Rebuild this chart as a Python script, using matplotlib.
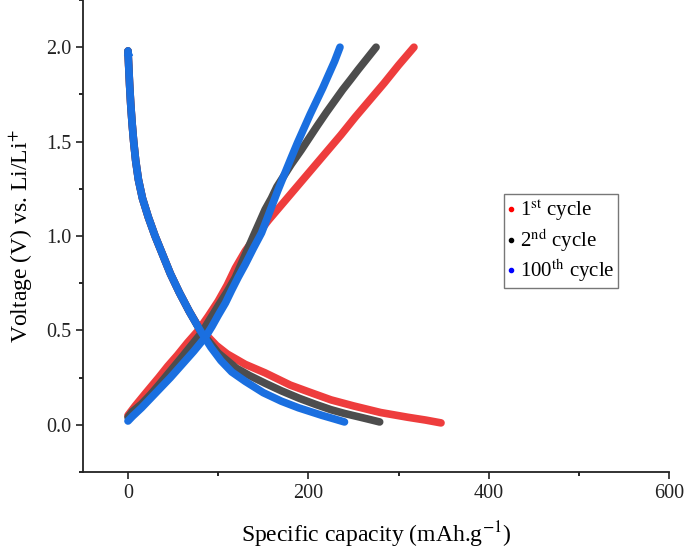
import numpy as np
import matplotlib
matplotlib.use('Agg')
import matplotlib.pyplot as plt
from matplotlib.lines import Line2D
from matplotlib.ticker import MultipleLocator

plt.rcParams['font.family'] = 'Liberation Serif'
plt.rcParams['mathtext.fontset'] = 'stix'

# discharge curves (capacity mAh/g, voltage V)
dis1_x = [0, 0.8, 1.8, 3, 4.5, 6.3, 8.5, 11.5, 16, 22.5, 30, 38.5, 47, 57, 68, 78, 88, 98, 110, 130, 152, 180, 200, 225, 250, 280, 310, 330, 347]
dis1_y = [1.98, 1.9, 1.8, 1.7, 1.6, 1.5, 1.4, 1.3, 1.2, 1.1, 1.0, 0.9, 0.8, 0.7, 0.6, 0.52, 0.47, 0.42, 0.375, 0.32, 0.275, 0.21, 0.175, 0.132, 0.1, 0.065, 0.04, 0.025, 0.01]
dis2_x = [0, 0.8, 1.8, 3, 4.5, 6.3, 8.5, 11.5, 16, 22.5, 30, 38.5, 47, 57, 68, 80, 90, 100, 120, 135, 152, 170, 190, 208, 225, 240, 255, 268, 279]
dis2_y = [1.98, 1.9, 1.8, 1.7, 1.6, 1.5, 1.4, 1.3, 1.2, 1.1, 1.0, 0.9, 0.8, 0.7, 0.6, 0.5, 0.44, 0.38, 0.3, 0.26, 0.22, 0.18, 0.14, 0.108, 0.08, 0.06, 0.043, 0.028, 0.015]
dis100_x = [0, 0.8, 1.8, 3, 4.5, 6.3, 8.5, 11.5, 16, 22.5, 30, 38.5, 47, 57, 68, 80, 92, 103, 115, 130, 150, 170, 189, 202, 215, 228, 240]
dis100_y = [1.98, 1.9, 1.8, 1.7, 1.6, 1.5, 1.4, 1.3, 1.2, 1.1, 1.0, 0.9, 0.8, 0.7, 0.6, 0.5, 0.41, 0.34, 0.28, 0.23, 0.17, 0.125, 0.09, 0.07, 0.05, 0.032, 0.015]

# charge curves
chg1_x = [0, 4, 8, 14, 20, 27, 34, 44, 55, 66, 78, 89, 100, 110, 119, 130, 142, 156, 172, 188, 204, 220, 236, 252, 268, 284, 300, 317]
chg1_y = [0.05, 0.075, 0.1, 0.135, 0.17, 0.21, 0.25, 0.31, 0.37, 0.435, 0.5, 0.575, 0.655, 0.74, 0.83, 0.92, 1.0, 1.085, 1.175, 1.265, 1.355, 1.445, 1.535, 1.63, 1.72, 1.81, 1.905, 2.0]
chg2_x = [0, 5, 15, 25, 34, 47, 60, 71, 82, 91, 100, 110, 119, 129, 139, 146, 152, 159, 165, 173, 181, 192, 201, 210, 220, 229, 238, 247, 255, 265, 275]
chg2_y = [0.04, 0.07, 0.11, 0.16, 0.21, 0.285, 0.36, 0.425, 0.49, 0.56, 0.63, 0.705, 0.78, 0.89, 1.0, 1.075, 1.14, 1.2, 1.26, 1.32, 1.38, 1.455, 1.52, 1.585, 1.655, 1.715, 1.775, 1.83, 1.88, 1.94, 2.0]
chg100_x = [0, 5, 15, 25, 34, 47, 60, 73, 86, 93, 100, 108, 115, 122, 130, 139, 148, 154, 160, 166, 172, 181, 188, 195, 202, 209, 216, 222, 229, 235]
chg100_y = [0.02, 0.045, 0.09, 0.14, 0.185, 0.25, 0.32, 0.39, 0.466, 0.52, 0.58, 0.645, 0.714, 0.78, 0.85, 0.935, 1.016, 1.09, 1.165, 1.24, 1.31, 1.415, 1.495, 1.57, 1.645, 1.715, 1.785, 1.85, 1.925, 2.0]

labels = ['1$^{\\mathrm{st}}$ cycle', '2$^{\\mathrm{nd}}$ cycle', '100$^{\\mathrm{th}}$ cycle']
colors = ['#ee3d3d', '#4d4d4d', '#1a6fe0']
legend_colors = ['red', 'black', 'blue']

fig = plt.figure(figsize=(6.85, 5.51), dpi=100)
ax = fig.add_axes([0.121, 0.1434, 0.856, 0.8566])

curves = [(dis1_x, dis1_y, chg1_x, chg1_y),
          (dis2_x, dis2_y, chg2_x, chg2_y),
          (dis100_x, dis100_y, chg100_x, chg100_y)]
for (dx, dy, cx, cy), c in zip(curves, colors):
    ax.plot(dx, dy, color=c, lw=5.5, solid_capstyle='round', solid_joinstyle='round')
    ax.plot(cx, cy, color=c, lw=5.5, solid_capstyle='round', solid_joinstyle='round')
ax.plot([0], [1.98], marker='^', color=colors[2], ms=6)
ax.plot([0], [1.92], marker='^', color=colors[2], ms=5)

ax.set_xlim(-50, 600)
ax.set_ylim(-0.25, 2.25)
ax.xaxis.set_major_locator(MultipleLocator(200))
ax.xaxis.set_minor_locator(MultipleLocator(100))
ax.yaxis.set_minor_locator(MultipleLocator(0.25))
ax.set_yticks([0, 0.5, 1.0, 1.5, 2.0])
ax.set_yticklabels(['0.0', '0.5', '1.0', '1.5', '2.0'])
ax.tick_params(which='major', direction='out', length=5, width=1.2, labelsize=14.5, colors='#222222')
ax.tick_params(which='minor', direction='out', length=3, width=1.2)
ax.spines['top'].set_visible(False)
ax.spines['right'].set_visible(False)
for s in ['left', 'bottom']:
    ax.spines[s].set_linewidth(1.3)
    ax.spines[s].set_color('#222222')

ax.set_xlabel('Specific capacity (mAh.g$^{-1}$)', fontsize=17, labelpad=12)
ax.set_ylabel('Voltage (V) vs. Li/Li$^{+}$', fontsize=17, labelpad=8)

handles = [Line2D([], [], ls='none', marker='o', ms=3, color=c) for c in legend_colors]
leg = ax.legend(handles, labels, loc='upper left', bbox_to_anchor=(0.718, 0.589),
                fontsize=15, frameon=True, fancybox=False, handlelength=0.3,
                handletextpad=0.25, borderpad=0.2, labelspacing=0.15, borderaxespad=0)
leg.get_frame().set_edgecolor('#555555')
leg.get_frame().set_linewidth(1.0)

fig.savefig('out.png', dpi=100)
